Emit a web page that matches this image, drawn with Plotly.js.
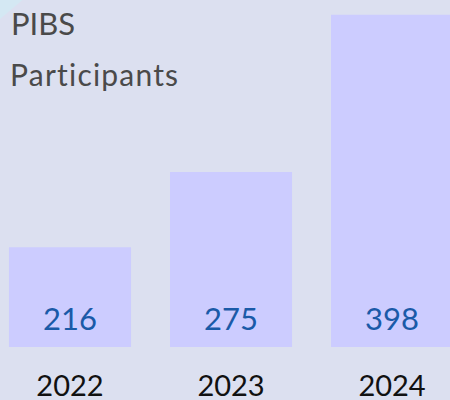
<!DOCTYPE html>
<html>
<head>
<meta charset="utf-8">
<script src="https://cdn.plot.ly/plotly-3.0.1.min.js"></script>
<style>
html,body{margin:0;padding:0;background:#dce0f0;}
#chart{width:450px;height:400px;}
.annotation[data-index="1"] text{letter-spacing:1.2px;}
</style>
</head>
<body>
<div id="chart"></div>
<script>
var years = ['2022', '2023', '2024'];
var participants = [216, 275, 398];
var chartTitle = 'PIBS';
var chartSubtitle = 'Participants';

var FONT = 'Lato, "Open Sans", sans-serif';
var LABEL_LEVEL = 157;

var bars = {
  type: 'bar',
  x: years,
  y: participants,
  marker: {color: '#ccccff', line: {width: 0}},
  hoverinfo: 'x+y',
  showlegend: false
};

var valueLabels = {
  type: 'scatter',
  mode: 'text',
  x: years,
  y: years.map(function () { return LABEL_LEVEL; }),
  text: participants.map(String),
  textposition: 'middle center',
  textfont: {family: FONT, size: 31, color: '#1a5aa8'},
  hoverinfo: 'skip',
  showlegend: false,
  cliponaxis: false
};

var annotations = [
  {xref: 'paper', yref: 'paper', x: 0.02, y: 1 - 27/400, text: chartTitle,
   showarrow: false, xanchor: 'left', yanchor: 'middle',
   font: {family: FONT, size: 31, color: '#4a4a4a'}},
  {xref: 'paper', yref: 'paper', x: 0.034, y: 1 - 85/400, text: chartSubtitle,
   showarrow: false, xanchor: 'left', yanchor: 'middle',
   font: {family: FONT, size: 30, color: '#4a4a4a'}}
];

var layout = {
  width: 450,
  height: 400,
  margin: {l: 0, r: 0, t: 0, b: 53, pad: 0},
  paper_bgcolor: '#dce0f0',
  plot_bgcolor: 'rgba(0,0,0,0)',
  bargap: 0.242,
  xaxis: {
    type: 'category',
    range: [-0.4348, 2.360],
    showgrid: false, zeroline: false, showline: false,
    ticks: '',
    ticklabelstandoff: 19,
    tickfont: {family: FONT, size: 29, color: '#111111'},
    fixedrange: true
  },
  yaxis: {
    range: [138, 409.5],
    visible: false,
    showgrid: false, zeroline: false,
    fixedrange: true
  },
  shapes: [
    {type: 'path', xref: 'paper', yref: 'paper', layer: 'below',
     path: 'M 0 1 L 0.05 1 L 0 0.945 Z',
     fillcolor: '#d4e8f3', line: {width: 0}}
  ],
  annotations: annotations
};

Plotly.newPlot('chart', [bars, valueLabels], layout, {displayModeBar: false, staticPlot: true});
</script>
</body>
</html>
